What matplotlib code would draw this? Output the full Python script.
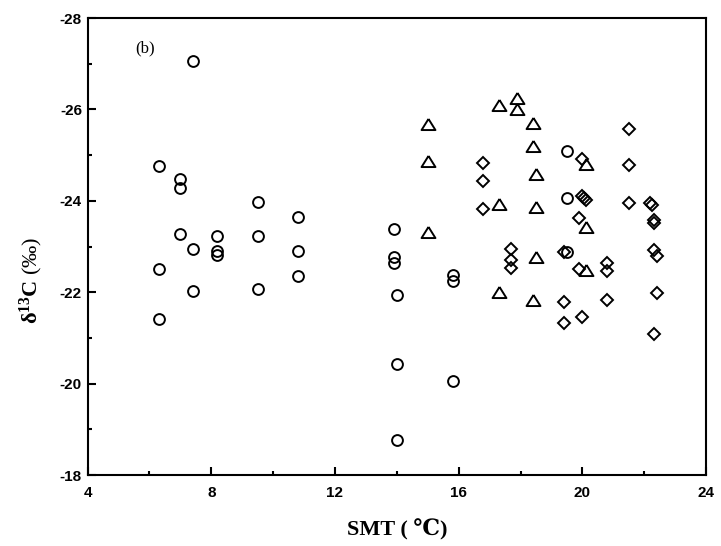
import numpy as np
import matplotlib
matplotlib.use("Agg")
import matplotlib.pyplot as plt

plt.rcParams["axes.unicode_minus"] = False
plt.rcParams["mathtext.fontset"] = "custom"
plt.rcParams["mathtext.rm"] = "Liberation Serif"
plt.rcParams["mathtext.bf"] = "Liberation Serif:bold"
plt.rcParams["mathtext.it"] = "Liberation Serif:italic"

# SMT (deg C) vs d13C (permil), three groups of samples
circle_smt = [6.3, 6.3, 6.3, 7.0, 7.0, 7.0, 7.4, 7.4, 7.4,
              8.2, 8.2, 8.2, 9.5, 9.5, 9.5, 10.8, 10.8, 10.8,
              13.9, 13.9, 13.9, 14.0, 14.0, 14.0, 15.8, 15.8, 15.8,
              19.5, 19.5, 19.5]
circle_d13c = [-24.76, -22.51, -21.41, -24.48, -24.29, -23.27, -27.07, -22.95, -22.03,
               -23.23, -22.90, -22.82, -23.98, -23.24, -22.07, -23.65, -22.90, -22.35,
               -23.38, -22.76, -22.63, -21.95, -20.43, -18.77, -22.38, -22.25, -20.06,
               -25.10, -24.07, -22.89]

tri_smt = [15.0, 15.0, 15.0, 17.3, 17.3, 17.3, 17.9, 17.9,
           18.4, 18.4, 18.4, 18.5, 18.5, 18.5, 20.1, 20.1, 20.1]
tri_d13c = [-25.68, -24.88, -23.32, -26.10, -23.93, -22.00, -26.24, -26.02,
            -25.71, -25.19, -21.83, -24.59, -23.86, -22.78, -24.81, -23.43, -22.49]

dia_smt = [16.8, 16.8, 16.8, 17.7, 17.7, 17.7, 19.4, 19.4, 19.4,
           19.9, 19.9, 20.0, 20.0, 20.05, 20.1, 20.0,
           20.8, 20.8, 20.8, 21.5, 21.5, 21.5,
           22.2, 22.25, 22.3, 22.3, 22.3, 22.4, 22.4, 22.3]
dia_d13c = [-24.82, -24.43, -23.82, -22.95, -22.70, -22.52, -22.89, -21.79, -21.33,
            -23.62, -22.50, -24.91, -24.10, -24.06, -24.02, -21.46,
            -22.65, -22.47, -21.84, -25.57, -24.78, -23.96,
            -23.96, -23.90, -23.58, -23.51, -22.93, -22.80, -21.99, -21.08]

fig = plt.figure(figsize=(7.21, 5.46), dpi=100)
ax = fig.add_axes([0.1214, 0.130, 0.858, 0.837])

mkw = dict(linestyle="none", markerfacecolor="none", markeredgecolor="black",
           markeredgewidth=1.4)
ax.plot(circle_smt, circle_d13c, marker="o", markersize=7.8, **mkw)
tri = [(0, 0.8), (-1, -0.8), (1, -0.8), (0, 0.8)]
ax.plot(tri_smt, tri_d13c, marker=tri, markersize=10, **mkw)
ax.plot(dia_smt, dia_d13c, marker="D", markersize=6.6, **mkw)

ax.set_xlim(4, 24)
ax.set_ylim(-18, -28)
ax.set_xticks(np.arange(4, 25, 4))
ax.set_xticks(np.arange(6, 24, 4), minor=True)
ax.set_yticks(np.arange(-28, -17, 2))
ax.set_yticks(np.arange(-27, -18, 2), minor=True)

for s in ax.spines.values():
    s.set_linewidth(1.5)
ax.tick_params(which="both", direction="in", width=1.5, top=False, right=False)
ax.tick_params(which="major", length=5.8)
ax.tick_params(which="minor", length=2.9)
ax.tick_params(axis="x", pad=8)
ax.tick_params(axis="y", pad=4)
for lab in ax.get_xticklabels() + ax.get_yticklabels():
    lab.set_fontfamily("Liberation Sans")
    lab.set_fontweight("bold")
    lab.set_fontsize(11)

ax.set_xlabel("SMT ( \u2103)", family=["Liberation Serif", "DejaVu Serif"],
              fontweight="bold", fontsize=16, va="center")
ax.xaxis.set_label_coords(0.5, -0.12)
ax.set_ylabel(r"$\mathbf{\delta}^{\mathbf{13}}\mathbf{C}\ \mathrm{(‰)}$",
              fontsize=16, va="center")
ax.yaxis.set_label_coords(-0.09, 0.427)

ax.text(0.077, 0.934, "(b)", transform=ax.transAxes, family="Liberation Serif",
        fontsize=12, ha="left", va="center")

plt.savefig("out.png", dpi=100)
